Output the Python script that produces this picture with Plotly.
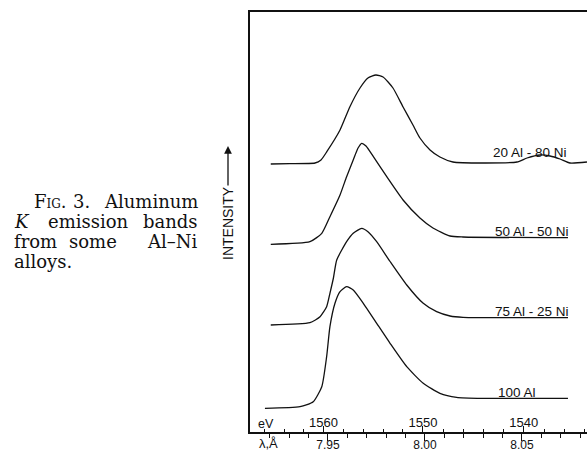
import plotly.graph_objects as go

# ---------------- data (wavelength in Angstrom, intensity in arbitrary units, curves offset) ----
wl_20_80 = [7.9205, 7.9304, 7.9433, 7.9464, 7.9494, 7.9562, 7.9613, 7.9665, 7.9706, 7.9747,
            7.9784, 7.9835, 7.9887, 7.9938, 7.9974, 8.0026, 8.0077, 8.0144, 8.0299, 8.0474,
            8.0526, 8.0593, 8.0644, 8.0696, 8.0747, 8.0835]
int_20_80 = [268, 268.3, 269, 272, 280.3, 302, 325.3, 344, 354, 357,
             355, 344, 325, 307, 294, 282, 275, 270, 269, 270,
             274, 277, 276, 273, 269, 270]

wl_50_50 = [7.9205, 7.9407, 7.9468, 7.9510, 7.9562, 7.9596, 7.9630, 7.9655, 7.9674, 7.9696,
            7.9734, 7.9803, 7.9887, 7.9974, 8.0041, 8.0129, 8.0196, 8.0737]
int_50_50 = [187.7, 190.3, 198.7, 215.3, 237, 255.3, 272, 284, 288.7, 286,
             275.3, 255.3, 232, 214, 204, 196, 195, 194.3]

wl_75_25 = [7.9205, 7.9407, 7.9459, 7.9493, 7.9510, 7.9528, 7.9545, 7.9596, 7.9630, 7.9674,
            7.9706, 7.9751, 7.9820, 7.9906, 7.9991, 8.0060, 8.0129, 8.0196, 8.0737]
int_75_25 = [107, 109.3, 115.3, 125.3, 138.7, 154, 172, 190.3, 198.7, 203.7,
             200.3, 190.3, 170.5, 147, 128.7, 120.3, 116, 114.7, 114.3]

wl_100 = [7.9175, 7.9356, 7.9424, 7.9468, 7.9493, 7.9510, 7.9536, 7.9562, 7.9596, 7.9630,
          7.9682, 7.9751, 7.9820, 7.9906, 7.9991, 8.0077, 8.0163, 8.0299, 8.0737]
int_100 = [23.7, 25.3, 30.3, 45.3, 75.3, 105.3, 128.7, 140.3, 145.3, 142,
           128.7, 108.7, 88.7, 65.3, 48.7, 38.7, 34.7, 33.7, 33.7]

curve_names = ["20 Al - 80 Ni", "50 Al - 50 Ni", "75 Al - 25 Ni", "100 Al"]
label_x = [8.0541, 8.0551, 8.0551, 8.0474]
label_y = [280, 201, 121, 40]

lambda_major = [7.95, 8.00, 8.05]
lambda_major_text = ["7.95", "8.00", "8.05"]
lambda_minor = [7.92, 7.93, 7.94, 7.96, 7.97, 7.98, 7.99, 8.01, 8.02, 8.03, 8.04,
                8.06, 8.07, 8.08]
ev_major = [1560, 1550, 1540]
ev_minor = [1566, 1564, 1562, 1558, 1556, 1554, 1552, 1548, 1546, 1544, 1542,
            1538, 1536, 1534]
HC = 12398.4  # eV*Angstrom

caption_lines = [
    ["F<span style='font-size:12px'>IG</span>.", "3.", "Aluminum"],
    ["<i>K</i>", "emission", "bands"],
    ["from", "some", "Al–Ni"],
    ["alloys."],
]

# ---------------- layout geometry ----------------
W, H = 587, 453
L, R, T, B = 250, 0, 12, 21
PW, PH = W - L - R, H - T - B
XR = [7.9098, 7.9098 + PW / 1940.0]


def px(x):
    return (x - L) / PW


def py(y):
    return (H - B - y) / PH


fig = go.Figure()
for wl, it in [(wl_20_80, int_20_80), (wl_50_50, int_50_50),
               (wl_75_25, int_75_25), (wl_100, int_100)]:
    fig.add_trace(go.Scatter(x=wl, y=it, mode="lines",
                             line=dict(color="#111", width=1.3, shape="spline", smoothing=0.55),
                             showlegend=False, hoverinfo="skip"))

# invisible trace to carry the eV axis
fig.add_trace(go.Scatter(x=[HC / 1550], y=[-10], xaxis="x2", mode="lines",
                         showlegend=False, hoverinfo="skip"))

sans = "Liberation Sans"
ann = []
for name, lx, ly in zip(curve_names, label_x, label_y):
    ann.append(dict(x=lx, y=ly, xref="x", yref="y", text=name, showarrow=False,
                    font=dict(family=sans, size=13.5, color="#111"),
                    xanchor="center", yanchor="middle"))

# caption, justified word by word: (x, anchor)
line_y = [201, 220.5, 240, 260]
word_pos = [
    [(32, "left"), (71, "left"), (200, "right")],
    [(12, "left"), (88.5, "center"), (200, "right")],
    [(12, "left"), (92.5, "center"), (200, "right")],
    [(12, "left")],
]
for words, yy, poss in zip(caption_lines, line_y, word_pos):
    for w, (xx, anc) in zip(words, poss):
        ann.append(dict(x=px(xx), y=py(yy + 1), xref="paper", yref="paper", text=w,
                        showarrow=False, xanchor=anc, yanchor="middle",
                        font=dict(family="DejaVu Serif", size=18, color="#111")))

# INTENSITY label and arrow
ann.append(dict(x=px(228), y=py(223), xref="paper", yref="paper", text="INTENSITY",
                textangle=-90, showarrow=False, xanchor="center", yanchor="middle",
                font=dict(family=sans, size=14, color="#111")))
ann.append(dict(x=px(228), y=py(146), xref="paper", yref="paper", text="",
                showarrow=True, ax=0, ay=41, arrowhead=2, arrowsize=1.2, arrowwidth=1.3,
                arrowcolor="#111", standoff=0, startstandoff=0))

# axis unit labels
ann.append(dict(x=px(266), y=py(424), xref="paper", yref="paper", text="eV",
                showarrow=False, xanchor="center", yanchor="middle",
                font=dict(family=sans, size=12.5, color="#111")))
ann.append(dict(x=px(268), y=py(444), xref="paper", yref="paper", text="λ,Å",
                showarrow=False, xanchor="center", yanchor="middle",
                font=dict(family=sans, size=13, color="#111")))

fig.update_layout(
    width=W, height=H,
    margin=dict(l=L, r=R, t=T, b=B, pad=0),
    paper_bgcolor="white", plot_bgcolor="white",
    xaxis=dict(range=XR, showgrid=False, zeroline=False, automargin=False,
               showline=True, linecolor="#111", linewidth=1.6, mirror=True,
               tickmode="array", tickvals=lambda_major, ticktext=lambda_major_text,
               ticks="outside", ticklen=7, tickwidth=1.3, tickcolor="#111",
               ticklabelstandoff=-6,
               tickfont=dict(family=sans, size=12, color="#111"),
               minor=dict(tickmode="array", tickvals=lambda_minor, ticks="outside",
                          ticklen=4, tickwidth=1, tickcolor="#111", showgrid=False)),
    xaxis2=dict(range=XR, overlaying="x", side="bottom", anchor="y", automargin=False,
                showgrid=False, zeroline=False, showline=False,
                tickmode="array", tickvals=[HC / e for e in ev_major],
                ticktext=[str(e) for e in ev_major],
                ticks="inside", ticklen=6, tickwidth=1.3, tickcolor="#111",
                ticklabelposition="inside", ticklabelstandoff=-4,
                tickfont=dict(family=sans, size=13, color="#111"),
                minor=dict(tickmode="array", tickvals=[HC / e for e in ev_minor],
                           ticks="inside", ticklen=3, tickwidth=1, tickcolor="#111",
                           showgrid=False)),
    yaxis=dict(range=[0, PH], showgrid=False, zeroline=False, showticklabels=False,
               automargin=False,
               ticks="", showline=True, linecolor="#111", linewidth=1.6),
    annotations=ann,
)

fig.write_html("out.html")
